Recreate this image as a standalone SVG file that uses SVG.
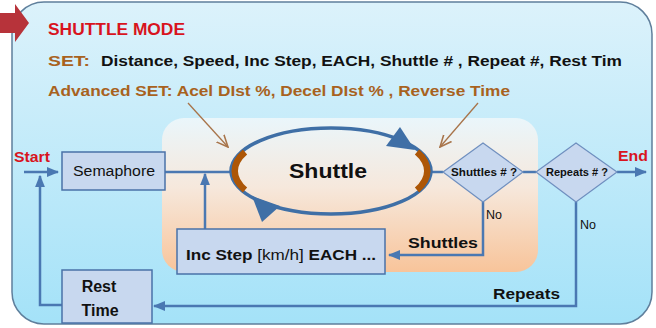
<svg xmlns="http://www.w3.org/2000/svg" width="656" height="328" viewBox="0 0 656 328">
<defs>
<linearGradient id="outerG" x1="0" y1="0" x2="0" y2="1">
<stop offset="0" stop-color="#dcf2fb"/>
<stop offset="1" stop-color="#a4e2f8"/>
</linearGradient>
<linearGradient id="innerG" x1="0" y1="0" x2="0" y2="1">
<stop offset="0" stop-color="#eaf6fb"/>
<stop offset="0.45" stop-color="#f6e8dc"/>
<stop offset="1" stop-color="#f8c49a"/>
</linearGradient>
<marker id="ah" viewBox="0 0 10 10" refX="9" refY="5" markerWidth="5" markerHeight="5" orient="auto" markerUnits="strokeWidth">
<path d="M0,1 L10,5 L0,9 z" fill="#4a78b2"/>
</marker>
<marker id="bh" viewBox="0 0 10 10" refX="9" refY="5" markerWidth="10" markerHeight="10" orient="auto" markerUnits="strokeWidth">
<path d="M0,1 L9,5 L0,9" fill="none" stroke="#a8744a" stroke-width="1.2"/>
</marker>
</defs>
<style>
.ln{fill:none;stroke:#4a78b2;stroke-width:2.5}
.box{fill:#c8d8ef;stroke:#4a72a8;stroke-width:1.5}
.dia{fill:#c8d8ef;stroke:#6f8fbf;stroke-width:1.2}
.t{font-family:"Liberation Sans",Arial,sans-serif;fill:#111}
.b{font-weight:bold}
.red{fill:#d8141e;font-weight:bold}
.br{fill:#a8621e;font-weight:bold}
.brown{stroke:#a8744a;stroke-width:1.3;fill:none}
</style>
<rect x="12" y="2" width="640" height="322" rx="32" fill="url(#outerG)" stroke="#5f7f9c" stroke-width="1.5"/>
<path d="M0,13 H15 V4 L29,23 L15,42 V33 H0 z" fill="#b7333a"/>
<rect x="162" y="118" width="376" height="154" rx="22" fill="url(#innerG)"/>
<text class="t red" x="48" y="35" font-size="16" textLength="137" lengthAdjust="spacingAndGlyphs">SHUTTLE MODE</text>
<text class="t br" x="48" y="66" font-size="15" textLength="42" lengthAdjust="spacingAndGlyphs">SET:</text>
<text class="t b" x="101" y="66" font-size="14" textLength="521" lengthAdjust="spacingAndGlyphs">Distance,  Speed,  Inc Step,  EACH,  Shuttle # ,  Repeat #,  Rest Tim</text>
<text class="t br" x="48" y="96" font-size="14" textLength="462" lengthAdjust="spacingAndGlyphs">Advanced SET:  Acel DIst %,  Decel DIst % , Reverse Time</text>
<g id="connectors">
<line class="ln" x1="24" y1="172" x2="58" y2="172" marker-end="url(#ah)"/>
<line class="ln" x1="165" y1="172" x2="231" y2="172"/>
<line class="ln" x1="205" y1="229" x2="205" y2="174" marker-end="url(#ah)"/>
<line class="ln" x1="432" y1="172" x2="443" y2="172"/>
<line class="ln" x1="523" y1="172" x2="536" y2="172"/>
<line class="ln" x1="617" y1="172" x2="646" y2="172" marker-end="url(#ah)"/>
<polyline class="ln" points="483,202 483,255 389,255" marker-end="url(#ah)"/>
<polyline class="ln" points="576,202 576,306 154,306" marker-end="url(#ah)"/>
<polyline class="ln" points="63,305 40,305 40,176" marker-end="url(#ah)"/>
<line class="brown" x1="188" y1="103" x2="228" y2="147" marker-end="url(#bh)"/>
<line class="brown" x1="478" y1="103" x2="440" y2="147" marker-end="url(#bh)"/>
<text class="t" x="486" y="219" font-size="12.5">No</text>
<text class="t" x="580" y="229" font-size="12.5">No</text>
<text class="t b" x="408" y="248" font-size="15" textLength="70" lengthAdjust="spacingAndGlyphs">Shuttles</text>
<text class="t b" x="493" y="299" font-size="15" textLength="67" lengthAdjust="spacingAndGlyphs">Repeats</text>
<text class="t red" x="14" y="162" font-size="14.5" textLength="36" lengthAdjust="spacingAndGlyphs">Start</text>
<text class="t red" x="618" y="161" font-size="15" textLength="30" lengthAdjust="spacingAndGlyphs">End</text>
</g>
<g id="semaphore">
<rect class="box" x="62" y="152" width="103" height="38"/>
<text class="t" x="73" y="176" font-size="14" textLength="82" lengthAdjust="spacingAndGlyphs">Semaphore</text>
</g>
<g id="shuttle">
<ellipse cx="331" cy="171" rx="100" ry="43" fill="none" stroke="#3f6fa6" stroke-width="3.5"/>
<path d="M415,150 L400,127 L386,146 z" fill="#3f6fa6"/>
<path d="M252,196 L262,222 L280,206 z" fill="#3f6fa6"/>
<path d="M245,152 A100,43 0 0 0 245,190" fill="none" stroke="#ad5606" stroke-width="6.5"/>
<path d="M417,152 A100,43 0 0 1 417,190" fill="none" stroke="#ad5606" stroke-width="6.5"/>
<text class="t b" x="289" y="178" font-size="21" textLength="78" lengthAdjust="spacingAndGlyphs">Shuttle</text>
</g>
<g id="shuttles-q">
<polygon class="dia" points="443,172 483,143 523,172 483,202"/>
<text class="t b" x="451" y="176" font-size="11" textLength="66" lengthAdjust="spacingAndGlyphs">Shuttles # ?</text>
</g>
<g id="repeats-q">
<polygon class="dia" points="536,172 576,143 617,172 576,202"/>
<text class="t b" x="546" y="176" font-size="11" textLength="62" lengthAdjust="spacingAndGlyphs">Repeats # ?</text>
</g>
<g id="incstep">
<rect class="box" x="177" y="229" width="208" height="45"/>
<text class="t" x="186" y="260" font-size="15" textLength="190" lengthAdjust="spacingAndGlyphs"><tspan font-weight="bold">Inc Step</tspan> [km/h] <tspan font-weight="bold">EACH  ...</tspan></text>
</g>
<g id="resttime">
<rect class="box" x="62" y="270" width="90" height="53"/>
<text class="t b" x="99" y="292" font-size="16" text-anchor="middle">Rest</text>
<text class="t b" x="100" y="316" font-size="16" text-anchor="middle">Time</text>
</g>
</svg>
